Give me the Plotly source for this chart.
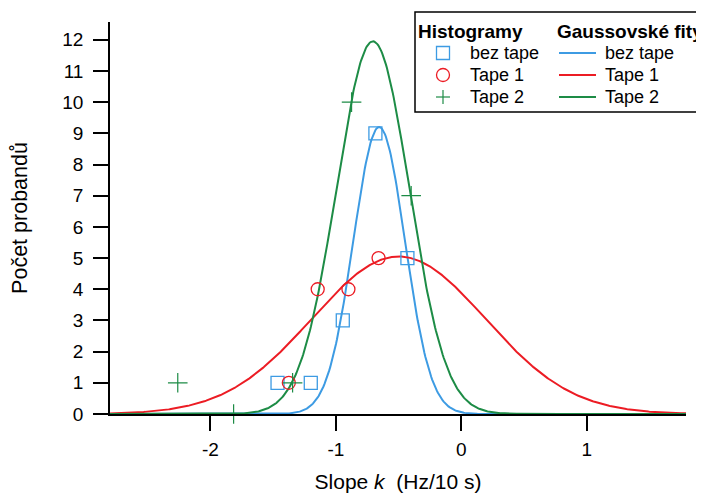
import numpy as np
import plotly.graph_objects as go

# Histogram data (bin centres, counts)
bez_x = [-1.465, -1.20, -0.945, -0.685, -0.43]
bez_y = [1, 1, 3, 9, 5]
t1_x = [-1.375, -1.145, -0.90, -0.66]
t1_y = [1, 4, 4, 5]
t2_x = [-2.26, -1.815, -1.345, -0.875, -0.40]
t2_y = [1, 0, 1, 10, 7]

# Gaussian fit parameters: amplitude, centre, sigma
fit_bez = [9.2, -0.655, 0.205]
fit_t1 = [5.05, -0.50, 0.69]
fit_t2 = [11.95, -0.705, 0.29]

x_ticks = [-2, -1, 0, 1]
y_ticks = list(range(0, 13))
series_names = ["bez tape", "Tape 1", "Tape 2"]

BLUE = "#3d9be3"
RED = "#ec1c24"
GREEN = "#1d8c46"
FONT = "Liberation Sans, Arial, sans-serif"

# the page body has an 8px margin; figure is placed at (8, 8)
OFF = 8
W, H = 704 - OFF, 499 - OFF
# plot-area geometry (page pixels)
PL, PR, PT, PB = 110, 686, 22, 414


def xp(px):
    return (px - PL) / (PR - PL)


def yp(py):
    return (PB - py) / (PB - PT)


xg = np.linspace(-2.80, 1.79, 600)


def gauss(p):
    a, m, s = p
    return a * np.exp(-((xg - m) ** 2) / (2 * s * s))


fig = go.Figure()
colors = [BLUE, RED, GREEN]
for name, p, c in zip(series_names, [fit_bez, fit_t1, fit_t2], colors):
    fig.add_trace(go.Scatter(x=xg, y=gauss(p), mode="lines", name=name,
                             line=dict(color=c, width=2), cliponaxis=False))

fig.add_trace(go.Scatter(x=bez_x, y=bez_y, mode="markers", name="bez tape",
                         marker=dict(symbol="square-open", size=13, color=BLUE, line=dict(width=1.3)),
                         cliponaxis=False))
fig.add_trace(go.Scatter(x=t1_x, y=t1_y, mode="markers", name="Tape 1",
                         marker=dict(symbol="circle-open", size=13, color=RED, line=dict(width=1.3)),
                         cliponaxis=False))
fig.add_trace(go.Scatter(x=t2_x, y=t2_y, mode="markers", name="Tape 2",
                         marker=dict(symbol="cross-thin-open", size=14, color=GREEN,
                                     line=dict(width=1.2, color=GREEN)),
                         cliponaxis=False))

# ---- hand-made two-column legend ----
shapes = [dict(type="rect", xref="paper", yref="paper",
               x0=xp(415), x1=xp(712), y0=yp(112), y1=yp(12),
               line=dict(color="black", width=1.5), fillcolor="rgba(0,0,0,0)")]
annotations = [
    dict(text="<b>Histogramy</b>", x=xp(416), y=yp(32), size=19),
    dict(text="<b>Gaussovské fity</b>", x=xp(555), y=yp(32), size=19),
]
row_y = [53, 75, 97]
for name, c, ry, kind in zip(series_names, colors, row_y, ["square", "circle", "cross"]):
    anchor = dict(xref="paper", yref="paper", xsizemode="pixel", ysizemode="pixel",
                  xanchor=xp(443), yanchor=yp(ry))
    if kind == "square":
        shapes.append(dict(type="rect", x0=-6.5, x1=6.5, y0=-6.5, y1=6.5,
                           line=dict(color=c, width=1.3), **anchor))
    elif kind == "circle":
        shapes.append(dict(type="circle", x0=-6.5, x1=6.5, y0=-6.5, y1=6.5,
                           line=dict(color=c, width=1.3), **anchor))
    else:
        shapes.append(dict(type="line", x0=-7, x1=7, y0=0, y1=0,
                           line=dict(color=c, width=1.2), **anchor))
        shapes.append(dict(type="line", x0=0, x1=0, y0=-7, y1=7,
                           line=dict(color=c, width=1.2), **anchor))
    shapes.append(dict(type="line", xref="paper", yref="paper",
                       x0=xp(559), x1=xp(596), y0=yp(ry), y1=yp(ry),
                       line=dict(color=c, width=2)))
    annotations.append(dict(text=name, x=xp(468), y=yp(ry), size=18))
    annotations.append(dict(text=name, x=xp(603), y=yp(ry), size=18))

for a in annotations:
    sz = a.pop("size")
    a.update(xref="paper", yref="paper", xanchor="left", yanchor="middle", showarrow=False,
             font=dict(family=FONT, size=sz, color="black"))

fig.update_layout(
    width=W, height=H,
    margin=dict(l=PL - OFF, r=W - (PR - OFF), t=PT - OFF, b=H - (PB - OFF), autoexpand=False),
    paper_bgcolor="white", plot_bgcolor="white",
    font=dict(family=FONT, size=19, color="black"),
    showlegend=False,
    xaxis=dict(range=[-2.80, 1.79], tickvals=x_ticks, ticktext=[str(v) for v in x_ticks],
               showgrid=False, zeroline=False, showline=True, linecolor="black", linewidth=1.5,
               ticks="outside", ticklen=15, tickwidth=1.5, tickcolor="black",
               tickfont=dict(size=19), ticklabelstandoff=2,
               title=dict(text="Slope <i>k</i>  (Hz/10 s)", font=dict(size=21), standoff=16)),
    yaxis=dict(range=[0, 12.57], tickvals=y_ticks, showgrid=False, zeroline=False,
               showline=True, linecolor="black", linewidth=1.5,
               ticks="outside", ticklen=15, tickwidth=1.5, tickcolor="black",
               tickfont=dict(size=19), ticklabelstandoff=6,
               title=dict(text="Počet probandů", font=dict(size=21.5), standoff=30)),
    shapes=shapes,
    annotations=annotations,
)

fig.write_html("out.html")
